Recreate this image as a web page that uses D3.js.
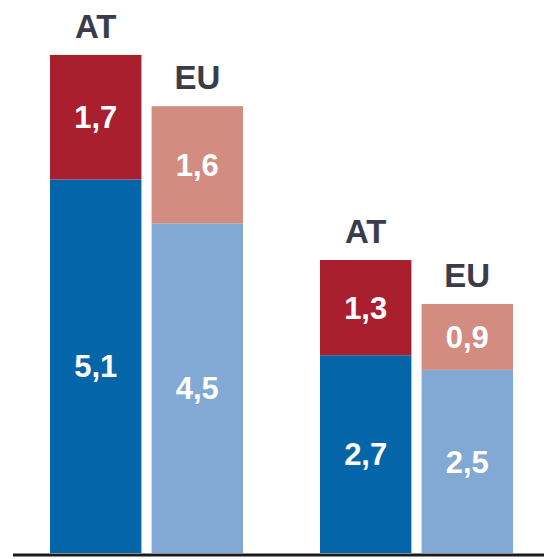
<!DOCTYPE html>
<html lang="de">
<head>
  <meta charset="UTF-8">
  <title>AT / EU</title>
  <script src="https://d3js.org/d3.v7.min.js"></script>
  <style>
    body { margin: 0; background: #fff; }
    svg { display: block; }
    .lbl { font-family: "Liberation Sans", Arial, sans-serif; font-weight: bold; }
  </style>
</head>
<body>
  <svg id="chart" width="544" height="559"></svg>
  <script>
    // data
    const groups = ["g1", "g2"];
    const regions = ["AT", "EU"];
    const lowerValues = [[5.1, 4.5], [2.7, 2.5]];
    const upperValues = [[1.7, 1.6], [1.3, 0.9]];
    const lowerColors = { AT: "#0565a9", EU: "#82a8d4" };
    const upperColors = { AT: "#a91f2e", EU: "#d28c80" };

    const svg = d3.select("#chart");
    const baseY = 553;

    const x0 = d3.scaleBand().domain(groups).range([50, 513]).paddingInner(0.285).paddingOuter(0);
    const x1 = d3.scaleBand().domain(regions).range([0, x0.bandwidth()]).paddingInner(0.1);
    const y = d3.scaleLinear().domain([0, 7.55]).range([baseY, 0]);

    const fmt = v => d3.format(".1f")(v).replace(".", ",");

    groups.forEach((g, gi) => {
      regions.forEach((r, ri) => {
        const lo = lowerValues[gi][ri];
        const up = upperValues[gi][ri];
        const bx = x0(g) + x1(r);
        const bw = x1.bandwidth();
        const cx = bx + bw / 2;

        svg.append("rect")
          .attr("x", bx).attr("width", bw)
          .attr("y", y(lo)).attr("height", y(0) - y(lo))
          .attr("fill", lowerColors[r]);
        svg.append("rect")
          .attr("x", bx).attr("width", bw)
          .attr("y", y(lo + up)).attr("height", y(lo) - y(lo + up))
          .attr("fill", upperColors[r]);

        // value labels
        svg.append("text").attr("class", "lbl")
          .attr("x", cx).attr("y", (y(0) + y(lo)) / 2)
          .attr("dy", "0.36em").attr("text-anchor", "middle")
          .attr("font-size", 31).attr("fill", "#fff")
          .text(fmt(lo));
        svg.append("text").attr("class", "lbl")
          .attr("x", cx).attr("y", (y(lo) + y(lo + up)) / 2)
          .attr("dy", "0.36em").attr("text-anchor", "middle")
          .attr("font-size", 31).attr("fill", "#fff")
          .text(fmt(up));

        // region label
        svg.append("text").attr("class", "lbl")
          .attr("x", cx).attr("y", y(lo + up) - 17)
          .attr("text-anchor", "middle")
          .attr("font-size", 33).attr("fill", "#3a3c4c")
          .text(r);
      });
    });

    // baseline
    svg.append("line")
      .attr("x1", 13).attr("x2", 544)
      .attr("y1", baseY + 2).attr("y2", baseY + 2)
      .attr("stroke", "#1b1b1f").attr("stroke-width", 3);
  </script>
</body>
</html>
